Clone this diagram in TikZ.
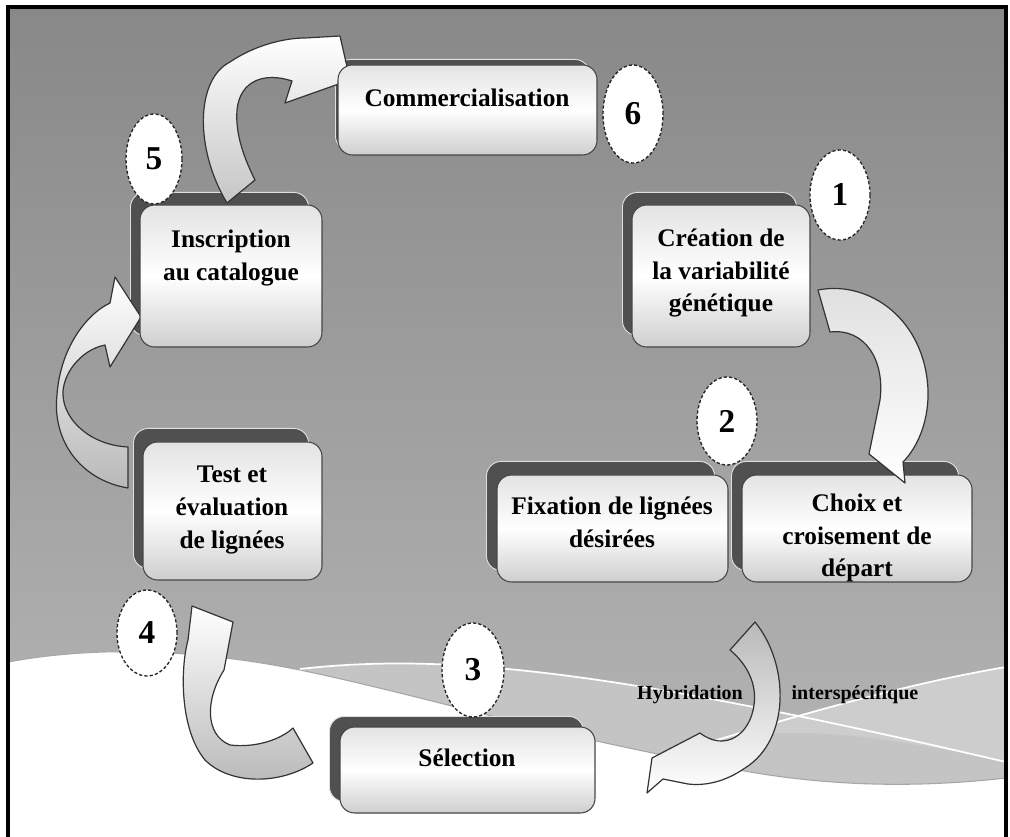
\documentclass[tikz,border=0pt]{standalone}
\usepackage{fontspec}
\setmainfont{Liberation Serif}
\usetikzlibrary{shapes.geometric}
\definecolor{bgtop}{RGB}{136,136,136}
\definecolor{bgbot}{RGB}{184,184,184}
\definecolor{bandgray}{RGB}{196,196,196}
\definecolor{shd}{RGB}{80,80,80}
\pgfdeclarelayer{bglayer}
\pgfdeclarelayer{shadowlayer}
\pgfsetlayers{bglayer,shadowlayer,main}
\newcommand\boxshadow[3]{\begin{pgfonlayer}{shadowlayer}\draw[shadowbox] ([shift={(#2)}]#1.north west) rectangle ([shift={(#3)}]#1.south east);\end{pgfonlayer}}
\begin{document}
\begin{tikzpicture}[x=0.75pt,y=-0.75pt,
  stepbox/.style={draw=gray!55!black, line width=0.8pt, rounded corners=11pt,
    top color=gray!22, bottom color=gray!38, middle color=white, inner sep=0pt},
  shadowbox/.style={fill=shd, draw=gray!25, line width=0.7pt, rounded corners=11pt},
  lbl/.style={font=\fontsize{19}{24.5}\selectfont\bfseries, align=center, inner sep=0pt, text=black},
  small/.style={font=\fontsize{15}{18}\selectfont\bfseries, inner sep=0pt, text=black},
  num/.style={ellipse, draw=black!85, dash pattern=on 2.4pt off 1.6pt, line width=1pt,
    fill=white, inner sep=0pt, font=\fontsize{25}{25}\selectfont\bfseries},
  blockarrow/.style={draw=black!80, line width=0.9pt, line join=round}]
\useasboundingbox (0,0) rectangle (1010,837);
\begin{pgfonlayer}{bglayer}
\fill[white] (0,0) rectangle (1010,837);
\fill[top color=bgtop, bottom color=bgbot] (8,7) rectangle (1006,837);
% lighter swoosh band
\fill[bandgray] (300,669) .. controls (450,652) and (620,672) .. (1006,762)
  -- (1006,778) .. controls (900,790) and (800,785) .. (700,762)
  .. controls (550,735) and (420,695) .. (300,670) -- cycle;
\fill[bandgray!85!white] (690,748) .. controls (800,715) and (900,685) .. (1006,667) -- (1006,762) .. controls (880,735) and (780,720) .. cycle;
% white lower region
\fill[white] (8,662) .. controls (100,645) and (200,650) .. (300,670)
  .. controls (420,695) and (550,735) .. (700,762)
  .. controls (800,785) and (900,790) .. (1006,778) -- (1006,837) -- (8,837) -- cycle;
\draw[gray!70, line width=0.8pt] (8,662) .. controls (100,645) and (200,650) .. (300,670)
  .. controls (420,695) and (550,735) .. (700,762)
  .. controls (800,785) and (900,790) .. (1006,778);
\draw[white, line width=1.3pt] (300,669) .. controls (450,652) and (620,672) .. (1006,762);
\draw[white, line width=1.3pt] (690,748) .. controls (800,715) and (900,685) .. (1006,667);
% frame
\draw[black, line width=2.3pt] (8,840) -- (8,7) -- (1006,7) -- (1006,840);
\end{pgfonlayer}

% arrow 5 -> 6 (drawn before the box that hides its tip)
\draw[blockarrow, top color=white, bottom color=gray!45]
  (227,203) .. controls (195,150) and (195,80) .. (230,62)
  .. controls (255,45) and (285,38) .. (305,38) -- (340,36) -- (350,80) -- (285,103)
  -- (292,81) .. controls (265,72) and (240,80) .. (237,110)
  .. controls (235,135) and (245,160) .. (255,180) -- cycle;
% arrow 4 -> 5
\draw[blockarrow, top color=white, bottom color=gray!55]
  (128,488) .. controls (80,480) and (52,440) .. (57,395)
  .. controls (60,350) and (85,315) .. (110,303) -- (115,277) -- (141,317) -- (110,367)
  -- (105,345) .. controls (80,350) and (62,375) .. (63,395)
  .. controls (64,420) and (90,445) .. (128,447) -- cycle;
% arrow Selection -> 4
\draw[blockarrow, top color=white, bottom color=gray!55]
  (192,606) -- (233,622) -- (224,670) .. controls (205,700) and (205,735) .. (230,745)
  .. controls (255,748) and (280,740) .. (293,728) -- (313,763)
  .. controls (280,785) and (230,785) .. (205,760)
  .. controls (180,730) and (180,670) .. (188,640) -- cycle;
% arrow hybridation -> Selection
\draw[blockarrow, top color=gray!55, bottom color=white]
  (755,622) .. controls (790,665) and (790,740) .. (745,768)
  .. controls (725,782) and (705,786) .. (688,784) -- (663,779) -- (647,793) -- (652,758)
  -- (700,733) .. controls (725,752) and (750,735) .. (754,705)
  .. controls (757,685) and (748,665) .. (730,650) -- cycle;

% boxes
\node[stepbox, minimum width=194.25pt, minimum height=67.5pt] (com) at (467.5,110) {};
\boxshadow{com}{-2,-5}{-8,-5}
\node[stepbox, minimum width=136.5pt, minimum height=106.5pt] (ins) at (231,276) {};
\boxshadow{ins}{-9,-12}{-14,-12}
\node[stepbox, minimum width=133.5pt, minimum height=106.5pt] (cre) at (721,276) {};
\boxshadow{cre}{-9,-12}{-14,-12}
\node[stepbox, minimum width=134.25pt, minimum height=103.5pt] (tst) at (232.5,511) {};
\boxshadow{tst}{-9,-13}{-14,-12}
\node[stepbox, minimum width=173.25pt, minimum height=80.25pt] (fix) at (612.5,528.5) {};
\boxshadow{fix}{-10,-13}{-14,-12}
\node[stepbox, minimum width=172.5pt, minimum height=80.25pt] (cho) at (857,528.5) {};
\boxshadow{cho}{-10,-13}{-14,-12}
\node[stepbox, minimum width=191.25pt, minimum height=64.5pt] (sel) at (467.5,770) {};
\boxshadow{sel}{-10,-10}{-12,-12}

% arrow 1 -> choix (over the box edge)
\draw[blockarrow, top color=gray!25, bottom color=white]
  (818,290) .. controls (870,280) and (925,320) .. (928,390)
  .. controls (929,425) and (915,450) .. (903,462) -- (905,483) -- (869,454)
  -- (880,400) .. controls (885,360) and (865,328) .. (830,332) -- cycle;

% texts
\node[lbl] (comT) at (467,98) {Commercialisation};
\node[lbl] (insT) at (231,258) {Inscription\\au catalogue};
\node[lbl] (creT) at (721,273) {Création de\\la variabilité\\génétique};
\node[lbl] (tstT) at (232,510) {Test et\\évaluation\\de lignées};
\node[lbl] (fixT) at (612,522) {Fixation de lignées\\désirées};
\node[lbl] (choT) at (857,538) {Choix et\\croisement de\\départ};
\node[lbl] (selT) at (467,758) {Sélection};
\node[small] (hyb) at (690,695) {Hybridation};
\node[small] (inter) at (855,695) {interspécifique};

% numbers
\node[num, minimum width=45pt, minimum height=67.5pt] (n1) at (840,195) {1};
\node[num, minimum width=45pt, minimum height=66pt] (n2) at (727,421) {2};
\node[num, minimum width=46.5pt, minimum height=70.5pt] (n3) at (473,670) {3};
\node[num, minimum width=45pt, minimum height=64.5pt] (n4) at (147,633) {4};
\node[num, minimum width=42pt, minimum height=67.5pt] (n5) at (154,159) {5};
\node[num, minimum width=45pt, minimum height=73.5pt] (n6) at (633,114) {6};
\end{tikzpicture}
\end{document}
